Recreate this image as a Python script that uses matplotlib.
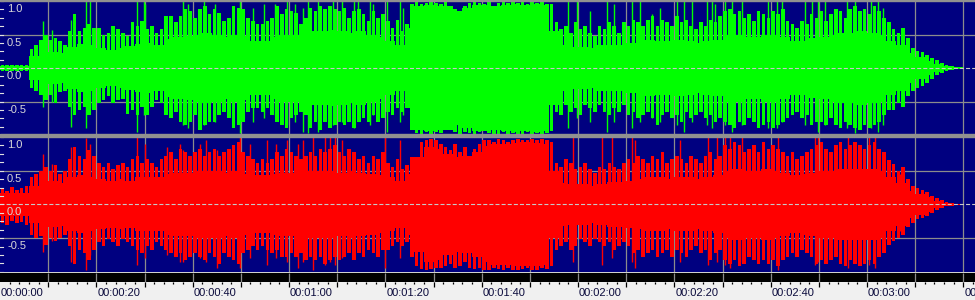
import numpy as np
import matplotlib
matplotlib.use("Agg")
import matplotlib.pyplot as plt
from matplotlib import transforms
from matplotlib.patches import Rectangle

green_hi = [
    0.04, 0.05, 0.04, 0.05, 0.04, 0.05, 0.28, 0.35, 0.42, 0.50,
    0.42, 0.45, 0.40, 0.35, 0.55, 0.80, 0.55, 0.60, 0.65, 0.60,
    0.60, 0.50, 0.52, 0.62, 0.58, 0.52, 0.48, 0.68, 0.62, 0.70,
    0.58, 0.62, 0.52, 0.58, 0.78, 0.78, 0.68, 0.78, 0.88, 0.85,
    0.75, 0.88, 0.92, 0.80, 0.88, 0.82, 0.70, 0.75, 0.92, 0.90,
    0.88, 0.75, 0.70, 0.65, 0.65, 0.70, 0.75, 0.92, 0.80, 0.88,
    0.85, 0.82, 0.65, 0.75, 0.90, 0.85, 0.92, 0.88, 0.92, 0.88,
    0.85, 0.90, 0.75, 0.85, 0.88, 0.80, 0.70, 0.85, 0.75, 0.80,
    0.70, 0.60, 0.72, 0.55, 0.65, 0.96, 0.98, 0.95, 0.97, 0.98,
    0.97, 0.95, 0.98, 0.92, 0.88, 0.85, 0.92, 0.97, 0.98, 0.97,
    0.96, 0.98, 0.93, 0.97, 0.98, 0.97, 0.98, 0.97, 0.98, 0.96,
    0.98, 0.97, 0.98, 0.96, 0.95, 0.68, 0.58, 0.62, 0.52, 0.68,
    0.58, 0.62, 0.52, 0.48, 0.62, 0.58, 0.68, 0.62, 0.52, 0.68,
    0.62, 0.72, 0.68, 0.62, 0.72, 0.78, 0.62, 0.72, 0.68, 0.62,
    0.78, 0.68, 0.72, 0.62, 0.58, 0.68, 0.62, 0.72, 0.68, 0.78,
    0.85, 0.88, 0.80, 0.85, 0.75, 0.80, 0.70, 0.85, 0.80, 0.75,
    0.85, 0.80, 0.88, 0.70, 0.65, 0.60, 0.70, 0.65, 0.80, 0.75,
    0.85, 0.70, 0.80, 0.88, 0.85, 0.75, 0.88, 0.92, 0.85, 0.88,
    0.80, 0.92, 0.85, 0.75, 0.68, 0.58, 0.52, 0.60, 0.45, 0.30,
    0.26, 0.24, 0.20, 0.15, 0.12, 0.08, 0.05, 0.03, 0.02, 0.00,
]
green_lo = [
    0.05, 0.04, 0.05, 0.04, 0.05, 0.04, 0.30, 0.35, 0.40, 0.48,
    0.40, 0.52, 0.36, 0.35, 0.58, 0.70, 0.62, 0.58, 0.70, 0.62,
    0.52, 0.48, 0.42, 0.52, 0.48, 0.46, 0.68, 0.62, 0.70, 0.58,
    0.70, 0.58, 0.48, 0.52, 0.70, 0.75, 0.65, 0.80, 0.85, 0.80,
    0.70, 0.92, 0.85, 0.80, 0.80, 0.70, 0.65, 0.75, 0.90, 0.85,
    0.80, 0.65, 0.60, 0.60, 0.65, 0.60, 0.70, 0.80, 0.85, 0.90,
    0.75, 0.70, 0.65, 0.70, 0.90, 0.80, 0.92, 0.80, 0.90, 0.85,
    0.80, 0.85, 0.80, 0.90, 0.80, 0.75, 0.80, 0.70, 0.80, 0.75,
    0.65, 0.70, 0.60, 0.65, 0.60, 0.92, 0.97, 0.98, 0.96, 0.98,
    0.95, 0.97, 0.82, 0.93, 0.96, 0.98, 0.95, 0.97, 0.98, 0.96,
    0.90, 0.97, 0.98, 0.98, 0.96, 0.98, 0.97, 0.98, 0.98, 0.96,
    0.98, 0.97, 0.98, 0.97, 0.94, 0.65, 0.70, 0.55, 0.65, 0.60,
    0.70, 0.55, 0.60, 0.65, 0.55, 0.65, 0.70, 0.60, 0.65, 0.55,
    0.70, 0.65, 0.75, 0.70, 0.65, 0.75, 0.85, 0.70, 0.65, 0.75,
    0.70, 0.80, 0.65, 0.75, 0.70, 0.65, 0.75, 0.70, 0.80, 0.75,
    0.80, 0.85, 0.90, 0.80, 0.85, 0.75, 0.80, 0.90, 0.85, 0.80,
    0.90, 0.85, 0.80, 0.75, 0.70, 0.65, 0.75, 0.70, 0.85, 0.80,
    0.80, 0.85, 0.75, 0.85, 0.90, 0.80, 0.85, 0.90, 0.92, 0.85,
    0.90, 0.85, 0.80, 0.70, 0.62, 0.62, 0.52, 0.58, 0.42, 0.35,
    0.30, 0.27, 0.22, 0.16, 0.11, 0.08, 0.05, 0.03, 0.02, 0.00,
]
red_hi = [
    0.24, 0.20, 0.26, 0.22, 0.24, 0.27, 0.40, 0.45, 0.50, 0.55,
    0.50, 0.58, 0.45, 0.50, 0.68, 0.85, 0.72, 0.68, 0.80, 0.72,
    0.62, 0.56, 0.62, 0.52, 0.58, 0.62, 0.56, 0.68, 0.72, 0.62,
    0.68, 0.62, 0.56, 0.68, 0.72, 0.78, 0.68, 0.82, 0.78, 0.72,
    0.78, 0.82, 0.72, 0.78, 0.82, 0.72, 0.78, 0.82, 0.88, 0.92,
    0.78, 0.72, 0.68, 0.62, 0.68, 0.62, 0.68, 0.78, 0.72, 0.82,
    0.78, 0.72, 0.68, 0.72, 0.78, 0.72, 0.82, 0.78, 0.82, 0.88,
    0.78, 0.72, 0.82, 0.78, 0.68, 0.72, 0.62, 0.72, 0.68, 0.78,
    0.62, 0.56, 0.68, 0.52, 0.58, 0.70, 0.65, 0.92, 0.95, 0.97,
    0.95, 0.90, 0.85, 0.80, 0.90, 0.78, 0.85, 0.72, 0.82, 0.90,
    0.95, 0.96, 0.93, 0.97, 0.95, 0.92, 0.96, 0.97, 0.95, 0.96,
    0.97, 0.96, 0.97, 0.95, 0.92, 0.62, 0.56, 0.68, 0.62, 0.52,
    0.56, 0.62, 0.52, 0.46, 0.56, 0.52, 0.62, 0.56, 0.52, 0.62,
    0.68, 0.62, 0.72, 0.68, 0.62, 0.72, 0.68, 0.78, 0.62, 0.68,
    0.72, 0.68, 0.62, 0.72, 0.68, 0.62, 0.72, 0.78, 0.68, 0.72,
    0.88, 0.82, 0.92, 0.88, 0.78, 0.82, 0.88, 0.78, 0.92, 0.82,
    0.88, 0.82, 0.78, 0.72, 0.78, 0.68, 0.72, 0.78, 0.82, 0.88,
    0.92, 0.82, 0.78, 0.88, 0.92, 0.82, 0.88, 0.92, 0.88, 0.82,
    0.88, 0.92, 0.82, 0.78, 0.66, 0.60, 0.50, 0.55, 0.38, 0.27,
    0.24, 0.21, 0.19, 0.13, 0.10, 0.06, 0.04, 0.02, 0.01, 0.00,
]
red_lo = [
    0.27, 0.30, 0.24, 0.28, 0.26, 0.30, 0.45, 0.50, 0.47, 0.60,
    0.50, 0.55, 0.50, 0.45, 0.62, 0.88, 0.68, 0.72, 0.82, 0.68,
    0.56, 0.62, 0.52, 0.56, 0.62, 0.52, 0.56, 0.62, 0.68, 0.72,
    0.62, 0.68, 0.56, 0.62, 0.68, 0.72, 0.78, 0.72, 0.82, 0.78,
    0.72, 0.78, 0.82, 0.72, 0.78, 0.88, 0.72, 0.78, 0.82, 0.88,
    0.72, 0.68, 0.62, 0.68, 0.62, 0.68, 0.72, 0.68, 0.78, 0.78,
    0.72, 0.78, 0.72, 0.82, 0.78, 0.82, 0.78, 0.88, 0.82, 0.78,
    0.82, 0.78, 0.72, 0.82, 0.72, 0.78, 0.68, 0.72, 0.78, 0.68,
    0.68, 0.62, 0.56, 0.62, 0.56, 0.78, 0.92, 0.96, 0.98, 0.96,
    0.94, 0.95, 0.92, 0.88, 0.95, 0.92, 0.85, 0.94, 0.96, 0.95,
    0.97, 0.98, 0.95, 0.96, 0.98, 0.95, 0.97, 0.98, 0.96, 0.95,
    0.98, 0.97, 0.95, 0.96, 0.92, 0.68, 0.62, 0.56, 0.68, 0.62,
    0.52, 0.56, 0.62, 0.52, 0.56, 0.62, 0.56, 0.68, 0.62, 0.56,
    0.62, 0.72, 0.68, 0.78, 0.72, 0.68, 0.78, 0.72, 0.68, 0.78,
    0.68, 0.72, 0.78, 0.68, 0.62, 0.72, 0.68, 0.82, 0.72, 0.68,
    0.82, 0.88, 0.82, 0.92, 0.88, 0.78, 0.82, 0.88, 0.82, 0.88,
    0.82, 0.92, 0.82, 0.78, 0.72, 0.78, 0.68, 0.72, 0.78, 0.88,
    0.82, 0.88, 0.82, 0.78, 0.88, 0.92, 0.82, 0.88, 0.92, 0.88,
    0.82, 0.88, 0.78, 0.72, 0.60, 0.55, 0.50, 0.45, 0.33, 0.27,
    0.22, 0.20, 0.17, 0.13, 0.09, 0.05, 0.03, 0.02, 0.01, 0.00,
]

# solid inner band of each channel, one value per 2 s (0 .. 198 s)
green_core = [
    0.03, 0.03, 0.03, 0.18, 0.24, 0.24, 0.22, 0.32, 0.36, 0.34,
    0.30, 0.27, 0.30, 0.33, 0.36, 0.38, 0.34, 0.44, 0.46, 0.48,
    0.50, 0.52, 0.50, 0.46, 0.50, 0.48, 0.40, 0.40, 0.46, 0.50,
    0.50, 0.48, 0.55, 0.55, 0.56, 0.55, 0.52, 0.55, 0.50, 0.46,
    0.40, 0.35, 0.60, 0.93, 0.94, 0.93, 0.92, 0.85, 0.90, 0.94,
    0.94, 0.92, 0.94, 0.95, 0.94, 0.95, 0.94, 0.55, 0.34, 0.32,
    0.32, 0.30, 0.34, 0.35, 0.35, 0.37, 0.40, 0.42, 0.40, 0.40,
    0.42, 0.40, 0.37, 0.40, 0.42, 0.50, 0.50, 0.47, 0.47, 0.50,
    0.50, 0.46, 0.40, 0.40, 0.45, 0.47, 0.50, 0.52, 0.52, 0.55,
    0.52, 0.50, 0.40, 0.34, 0.22, 0.16, 0.11, 0.06, 0.03, 0.01,
]
red_core = [
    0.17, 0.17, 0.17, 0.28, 0.34, 0.34, 0.32, 0.40, 0.43, 0.40,
    0.37, 0.35, 0.37, 0.35, 0.40, 0.40, 0.40, 0.45, 0.47, 0.47,
    0.50, 0.50, 0.50, 0.47, 0.50, 0.45, 0.43, 0.43, 0.45, 0.47,
    0.47, 0.45, 0.50, 0.50, 0.50, 0.47, 0.50, 0.47, 0.45, 0.43,
    0.40, 0.35, 0.45, 0.70, 0.85, 0.82, 0.75, 0.70, 0.72, 0.78,
    0.86, 0.90, 0.90, 0.91, 0.92, 0.91, 0.90, 0.50, 0.32, 0.30,
    0.30, 0.27, 0.30, 0.33, 0.33, 0.35, 0.37, 0.40, 0.40, 0.37,
    0.40, 0.40, 0.37, 0.40, 0.43, 0.50, 0.53, 0.50, 0.50, 0.53,
    0.50, 0.47, 0.43, 0.45, 0.47, 0.50, 0.50, 0.53, 0.53, 0.53,
    0.53, 0.50, 0.40, 0.32, 0.20, 0.15, 0.11, 0.05, 0.02, 0.01,
]

# isolated tall peaks: (second, top, bottom)
green_spikes = [
    (9.0, 0.70, 0.58), (10.7, 0.57, 0.50), (14.7, 0.72, 0.88), (17.9, 1.0, 0.90),
    (18.7, 1.0, 0.60), (28.4, 1.0, 0.95), (29.9, 1.0, 0.70), (30.2, 0.95, 0.65),
    (37.9, 1.0, 0.85), (39.1, 0.95, 0.90), (42.3, 1.0, 0.85), (44.6, 0.95, 0.80),
    (49.8, 1.0, 0.97), (52.5, 0.90, 0.80), (54.8, 0.95, 0.75), (57.1, 0.95, 0.70),
    (59.5, 1.0, 0.85), (61.2, 0.95, 0.80), (62.8, 0.90, 0.95), (64.0, 1.0, 0.97),
    (66.1, 1.0, 0.95), (69.2, 1.0, 0.85), (70.9, 1.0, 0.80), (73.4, 1.0, 0.90),
    (74.4, 1.0, 0.75), (76.8, 1.0, 0.85), (77.5, 0.95, 0.70), (80.3, 1.0, 0.95),
    (83.0, 1.0, 0.80), (83.7, 0.90, 0.70), (118.0, 1.0, 0.90), (119.7, 1.0, 0.75),
    (122.5, 0.85, 0.80), (126.0, 1.0, 0.95), (127.4, 0.95, 0.80), (131.1, 1.0, 0.90),
    (132.9, 1.0, 0.80), (135.3, 0.80, 0.75), (137.0, 0.90, 0.80), (140.5, 1.0, 0.85),
    (141.9, 1.0, 0.95), (143.6, 1.0, 0.80), (146.7, 1.0, 0.85), (147.8, 1.0, 0.90),
    (148.4, 0.95, 0.75), (150.5, 1.0, 0.85), (151.9, 1.0, 0.95), (154.0, 1.0, 0.85),
    (159.5, 1.0, 0.90), (161.2, 1.0, 0.90), (162.3, 1.0, 0.80), (167.1, 1.0, 0.85),
    (168.5, 1.0, 0.80), (169.9, 1.0, 0.95), (171.3, 1.0, 0.85), (175.8, 1.0, 0.90),
    (177.5, 1.0, 0.97), (180.9, 1.0, 0.90), (182.3, 1.0, 0.95), (183.3, 0.90, 0.85),
    (187.2, 0.50, 0.45),
]
red_spikes = [
    (9.0, 0.75, 0.70), (10.7, 0.60, 0.55), (14.7, 0.85, 0.85), (17.9, 0.98, 0.98),
    (18.7, 0.90, 0.75), (28.4, 1.0, 0.90), (30.2, 0.90, 0.80), (34.6, 0.85, 0.75),
    (37.4, 0.90, 0.85), (37.9, 0.80, 0.85), (41.5, 0.90, 0.80), (42.7, 0.95, 0.85),
    (45.0, 0.80, 0.95), (49.8, 1.0, 0.95), (52.0, 0.90, 0.80), (55.5, 0.95, 0.90),
    (57.4, 0.90, 0.80), (59.5, 0.95, 0.85), (61.8, 0.90, 0.95), (63.0, 0.95, 0.85),
    (65.0, 1.0, 0.98), (67.5, 1.0, 0.90), (68.5, 1.0, 0.85), (69.6, 1.0, 0.90),
    (70.9, 0.95, 0.80), (80.0, 1.0, 0.95), (83.0, 0.95, 0.80), (119.0, 1.0, 0.85),
    (124.9, 1.0, 0.90), (127.0, 1.0, 0.80), (131.1, 1.0, 0.85), (131.8, 0.95, 0.95),
    (141.2, 0.95, 0.85), (147.0, 1.0, 0.90), (148.8, 1.0, 0.85), (150.5, 1.0, 0.90),
    (151.6, 1.0, 0.95), (154.0, 1.0, 0.85), (161.6, 1.0, 0.97), (169.2, 1.0, 0.90),
    (169.9, 1.0, 0.85), (176.1, 1.0, 0.95), (180.3, 1.0, 0.90), (181.7, 1.0, 0.95),
    (186.9, 0.45, 0.40),
]

amp_labels = ["1.0", "0.5", "0.0", "-0.5"]
amp_values = [1.0, 0.5, 0.0, -0.5]
time_labels = ["00:00:00", "00:00:20", "00:00:40", "00:01:00", "00:01:20", "00:01:40",
               "00:02:00", "00:02:20", "00:02:40", "00:03:00", "00:03:20"]
time_values = [0, 20, 40, 60, 80, 100, 120, 140, 160, 180, 200]

NAVY = "#000080"
GRID = "#8c8c8c"
W, H = 975, 300
PX_PER_SEC = 4.817
X_MAX = W / PX_PER_SEC

plt.rcParams["font.family"] = ["Liberation Sans", "DejaVu Sans"]
plt.rcParams["lines.scale_dashes"] = False

fig = plt.figure(figsize=(W / 100, H / 100), dpi=100, facecolor="#f0f0f0")


def px_rect(y0, y1):
    # figure rect for a horizontal strip given in pixel rows from the top
    return [0, 1 - y1 / H, 1, (y1 - y0) / H]


def draw_channel(ax, hi, lo, core, spikes, color, ymin):
    ax.set_facecolor(NAVY)
    ax.set_xlim(0, X_MAX)
    ax.set_ylim(ymin, 1.0)
    ax.set_xticks([])
    ax.set_yticks([])
    for s in ax.spines.values():
        s.set_visible(False)

    for t in range(10, 210, 10):
        ax.axvline(t, color=GRID, lw=0.9, zorder=1)
    for v in (0.5, -0.5):
        ax.axhline(v, color=GRID, lw=0.9, zorder=1)

    sec = np.arange(len(hi))
    hi = np.array(hi)
    lo = np.array(lo)
    core = np.array(core)
    tc = np.arange(len(core) + 1) * 2.0
    cc = np.append(core, core[-1])
    ax.fill_between(tc, -cc, cc, step="post", color=color, lw=0, zorder=2, antialiased=False)
    ax.bar(sec + 0.5, hi, width=0.74, color=color, lw=0, zorder=2, antialiased=False)
    ax.bar(sec + 0.5, -lo, width=0.74, color=color, lw=0, zorder=2, antialiased=False)
    st = [s[0] for s in spikes]
    sh = [s[1] for s in spikes]
    sl = [-s[2] for s in spikes]
    ax.vlines(st, sl, sh, color=color, lw=1.0, zorder=2)

    ax.axhline(0, color="#c8c8c8", lw=0.8, dashes=(2.9, 1.5), zorder=3)

    # small marks along the left edge
    trans = transforms.blended_transform_factory(ax.transAxes, ax.transData)
    for v in np.arange(-1.0, 1.01, 0.125):
        ax.plot([0, 2.5 / W], [v, v], color="#e0e0e0", lw=0.8, transform=trans, zorder=4)

    lab_trans = transforms.offset_copy(trans, fig=fig, x=0, y=-2.2, units="points")
    for lab, v in zip(amp_labels, amp_values):
        ax.text(7 / W, v, lab, color="#d8d8d8", fontsize=8, va="top", ha="left",
                transform=lab_trans, zorder=5)


ax_top = fig.add_axes(px_rect(1, 134))
draw_channel(ax_top, green_hi, green_lo, green_core, green_spikes, "#00ff00", -0.985)

ax_bot = fig.add_axes(px_rect(137, 271.5))
draw_channel(ax_bot, red_hi, red_lo, red_core, red_spikes, "#ff0000", -0.995)

# gray borders
fig.patches.append(Rectangle((0, 1 - 1 / H), 1, 1 / H, transform=fig.transFigure,
                             color="#909090", zorder=0))
fig.patches.append(Rectangle((0, 1 - 137 / H), 1, 3 / H, transform=fig.transFigure,
                             color="#909090", zorder=0))

# time ruler below the waveforms
ax_r = fig.add_axes(px_rect(271.5, 300))
ax_r.set_xlim(0, X_MAX)
ax_r.set_ylim(28.5, 0)
ax_r.set_facecolor("#f0f0f0")
ax_r.axis("off")
ax_r.axhspan(0, 1, color="#d0d0d0", lw=0)
ax_r.axhspan(1, 10.2, color="black", lw=0)
for t in range(10, 210, 10):
    ax_r.vlines(t, 1, 10.2, color=GRID, lw=0.9)
    ax_r.vlines(t, 10.2, 15.5, color="black", lw=0.9)
for t in range(2, 204, 2):
    if t % 10:
        ax_r.vlines(t, 10.2, 12.3, color="black", lw=0.9)
for lab, t in zip(time_labels, time_values):
    ax_r.text(t + 0.2, 16.0, lab, fontsize=8, color="#0a0a3c", ha="left", va="top")

fig.savefig("out.png", dpi=100, facecolor=fig.get_facecolor())
